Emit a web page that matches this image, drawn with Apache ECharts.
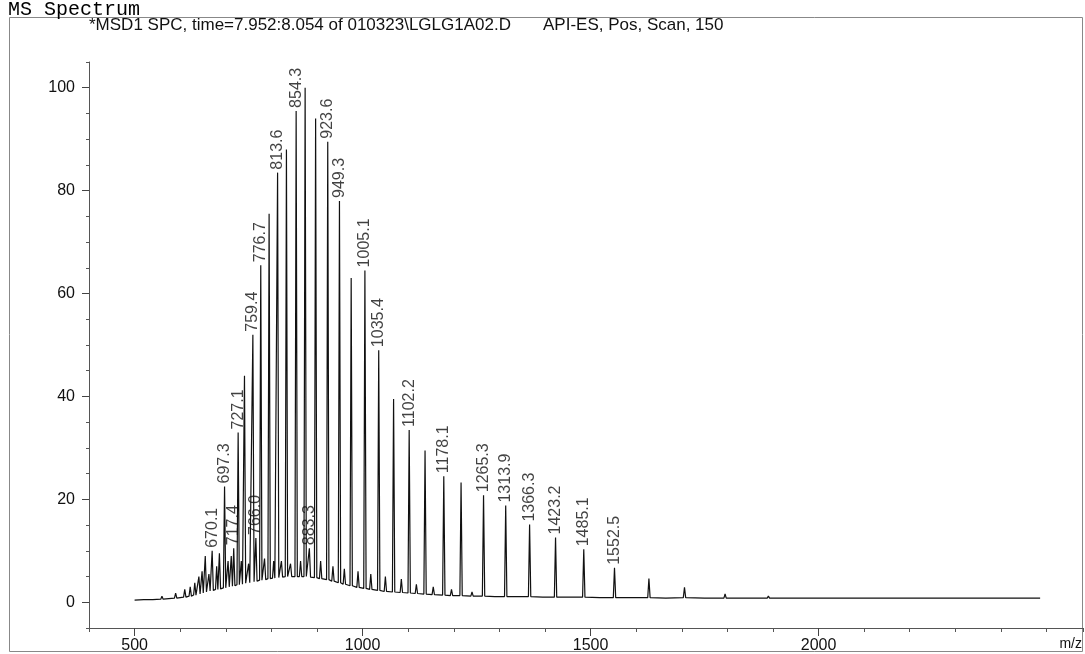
<!DOCTYPE html>
<html>
<head>
<meta charset="utf-8">
<script src="https://cdn.jsdelivr.net/npm/echarts@6/dist/echarts.min.js"></script>
<style>
html,body{margin:0;padding:0;background:#fff;}
#chart{width:1085px;height:654px;}
</style>
</head>
<body>
<div id="chart"></div>
<script>
// ---- data ----
const titleText = 'MS Spectrum';
const headerLeft = '*MSD1 SPC, time=7.952:8.054 of 010323\\LGLG1A02.D';
const headerRight = 'API-ES, Pos, Scan, 150';

// peak apex m/z, apex intensity, foot (local baseline) intensity
const peakMz = [560, 590, 610, 622, 632, 641, 648, 655, 663, 670.1, 680, 686, 697.3, 705, 712, 717.4, 727.1, 734, 741, 750, 759.4, 766.0, 776.7, 785, 795, 805, 813.6, 822, 833, 842, 854.3, 864, 874, 883.3, 897, 908, 923.6, 935, 949.3, 960, 975, 990, 1005.1, 1018, 1035.4, 1050, 1068, 1085, 1102.2, 1118, 1137, 1155, 1178.1, 1195, 1216, 1240, 1265.3, 1313.9, 1366.3, 1423.2, 1485.1, 1552.5, 1628, 1706, 1795, 1890, 2003];
const peakInt = [1.2, 1.8, 2.5, 3.0, 3.8, 5.0, 6.0, 9.0, 5.5, 10.0, 7.0, 9.5, 22.5, 8.0, 9.0, 10.5, 33.0, 8.0, 44.0, 7.5, 52.0, 12.5, 65.5, 8.5, 75.5, 8.0, 83.5, 8.0, 88.0, 7.5, 95.5, 8.0, 100.0, 10.5, 94.0, 8.0, 89.5, 7.0, 78.0, 6.5, 63.0, 6.0, 64.5, 5.5, 49.0, 5.0, 39.5, 4.5, 33.5, 3.5, 29.5, 3.0, 24.5, 2.5, 23.3, 2.0, 20.8, 18.8, 15.1, 12.6, 10.3, 6.7, 4.6, 2.9, 1.6, 1.2, 0.9];
const peakFoot = [0.6, 0.8, 1.0, 1.2, 1.4, 1.6, 1.8, 2.0, 2.2, 2.3, 2.5, 2.6, 2.8, 3.0, 3.1, 3.2, 3.4, 3.5, 3.7, 3.8, 4.0, 4.1, 4.3, 4.4, 4.6, 4.7, 4.8, 4.9, 5.0, 5.0, 5.0, 5.0, 5.0, 4.9, 4.8, 4.6, 4.4, 4.1, 3.8, 3.5, 3.2, 2.9, 2.7, 2.5, 2.3, 2.1, 2.0, 1.9, 1.8, 1.7, 1.6, 1.5, 1.4, 1.3, 1.3, 1.2, 1.2, 1.1, 1.1, 1.0, 1.0, 0.9, 0.9, 0.9, 0.8, 0.8, 0.8];
// baseline points between peaks
const baseMz = [500, 520, 540, 575, 600, 1290, 1340, 1395, 1455, 1520, 1590, 1665, 1750, 1840, 1950, 2060, 2150, 2250, 2350, 2440, 2486];
const baseInt = [0.4, 0.5, 0.5, 0.7, 0.9, 1.1, 1.1, 1.0, 1.0, 0.9, 0.9, 0.8, 0.8, 0.8, 0.8, 0.8, 0.8, 0.8, 0.8, 0.8, 0.8];

// peaks carrying an m/z label
const labelMz = [670.1, 697.3, 717.4, 727.1, 759.4, 766.0, 776.7, 813.6, 854.3, 883.3, 923.6, 949.3, 1005.1, 1035.4, 1102.2, 1178.1, 1265.3, 1313.9, 1366.3, 1423.2, 1485.1, 1552.5];

// axis ticks
const xMajor = [500, 1000, 1500, 2000];
const yMajor = [0, 20, 40, 60, 80, 100];

// ---- build series ----
const hw = 2.6;
const profile = [];
peakMz.forEach((m, i) => {
  profile.push([m - hw, peakFoot[i]]);
  profile.push([m, peakInt[i]]);
  profile.push([m + hw, peakFoot[i]]);
});
baseMz.forEach((m, i) => profile.push([m, baseInt[i]]));
profile.sort((a, b) => a[0] - b[0]);

const labelData = labelMz.map(m => [m, peakInt[peakMz.indexOf(m)]]);

const FONT = "'Liberation Sans', Arial, sans-serif";
const chart = echarts.init(document.getElementById('chart'));
chart.setOption({
  animation: false,
  backgroundColor: '#fff',
  grid: {left: 89, right: 2, top: 62, bottom: 26},
  graphic: [
    {type: 'rect', shape: {x: 9.5, y: 17.5, width: 1073, height: 634}, style: {fill: 'none', stroke: '#888', lineWidth: 1}, silent: true},
    {type: 'text', left: 8, top: 0, style: {text: titleText, font: "20px 'Liberation Mono', 'Courier New', monospace", fill: '#000'}},
    {type: 'text', left: 89, top: 17, style: {text: headerLeft, font: '17px ' + FONT, fill: '#111'}},
    {type: 'text', left: 543, top: 17, style: {text: headerRight, font: '17px ' + FONT, fill: '#111'}},
    {type: 'text', right: 3, top: 637, style: {text: 'm/z', font: '14px ' + FONT, fill: '#111'}}
  ],
  xAxis: [
    {type: 'value', min: 400, max: 2580, interval: 100, gridIndex: 0,
     axisLine: {onZero: false, lineStyle: {color: '#555', width: 1}},
     axisTick: {length: 4, lineStyle: {color: '#555'}},
     axisLabel: {show: false}, splitLine: {show: false}},
    {type: 'value', min: 400, max: 2580, gridIndex: 0, position: 'bottom',
     axisLine: {show: false, onZero: false},
     axisTick: {show: true, length: 8, customValues: xMajor, lineStyle: {color: '#444'}},
     axisLabel: {show: true, customValues: xMajor, margin: 10, color: '#111', fontSize: 16, fontFamily: FONT,
                 formatter: v => String(v)},
     splitLine: {show: false}}
  ],
  yAxis: [
    {type: 'value', min: -5, max: 105, interval: 5, gridIndex: 0,
     axisLine: {show: true, lineStyle: {color: '#555', width: 1}},
     axisTick: {length: 3, lineStyle: {color: '#555'}},
     axisLabel: {show: false}, splitLine: {show: false}},
    {type: 'value', min: -5, max: 105, gridIndex: 0, position: 'left',
     axisLine: {show: false},
     axisTick: {show: true, length: 7, customValues: yMajor, lineStyle: {color: '#444'}},
     axisLabel: {show: true, customValues: yMajor, margin: 14, color: '#111', fontSize: 16, fontFamily: FONT,
                 formatter: v => String(v)},
     splitLine: {show: false}}
  ],
  series: [
    {type: 'line', xAxisIndex: 0, yAxisIndex: 0, data: profile, showSymbol: false, symbol: 'none',
     lineStyle: {color: '#111', width: 1.2}, silent: true},
    {type: 'scatter', xAxisIndex: 0, yAxisIndex: 0, data: labelData, symbolSize: 0, silent: true,
     label: {show: true, position: 'top', distance: 3, rotate: 90, align: 'left', verticalAlign: 'middle',
             formatter: p => p.value[0].toFixed(1), color: '#111', fontSize: 16, fontFamily: FONT}}
  ]
});
</script>
</body>
</html>
